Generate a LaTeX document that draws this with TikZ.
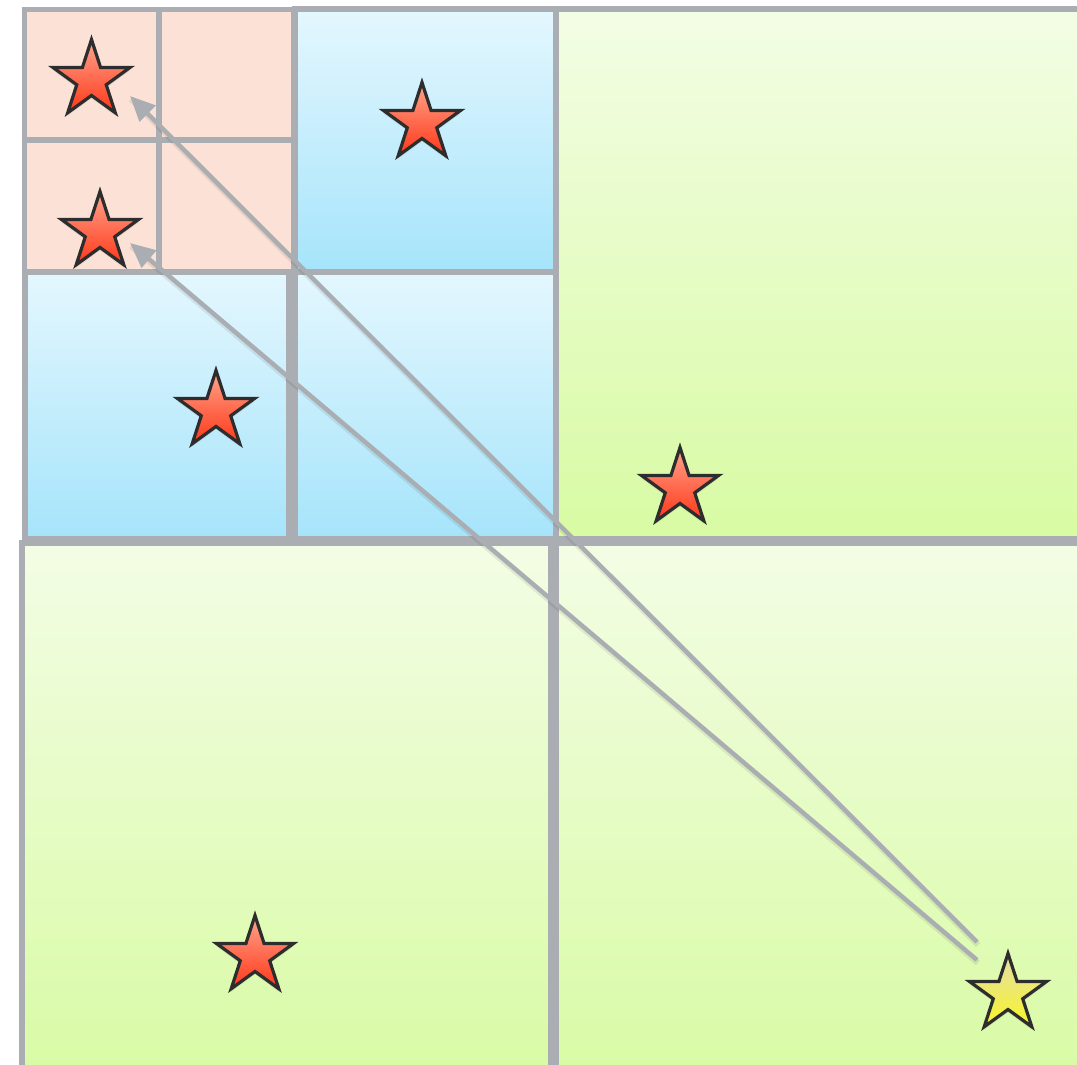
\documentclass[tikz,border=0pt]{standalone}
\usetikzlibrary{shapes.geometric,arrows.meta,shadows}
\definecolor{grid}{RGB}{170,174,178}
\definecolor{pinkfill}{RGB}{252,226,214}
\definecolor{bluetop}{RGB}{228,247,254}
\definecolor{bluebot}{RGB}{166,228,251}
\definecolor{greentop}{RGB}{243,253,229}
\definecolor{greenbot}{RGB}{216,251,163}
\definecolor{redtop}{RGB}{255,165,140}
\definecolor{redbot}{RGB}{255,55,25}
\definecolor{yeltop}{RGB}{228,222,170}
\definecolor{yelbot}{RGB}{248,245,40}
\definecolor{stardraw}{RGB}{45,45,45}
\tikzset{
  cell/.style={draw=grid, line width=6pt},
  pinkcell/.style={cell, fill=pinkfill, line width=5.5pt},
  bluecell/.style={cell, top color=bluetop, bottom color=bluebot},
  greencell/.style={cell, top color=greentop, bottom color=greenbot},
  starbase/.style={star, star points=5, star point ratio=2.618, minimum size=81pt,
    inner sep=0pt, draw=stardraw, line width=3.2pt, line join=miter,
    drop shadow={opacity=0.18, shadow xshift=0pt, shadow yshift=-3pt}},
  redstar/.style={starbase, top color=redtop, bottom color=redbot},
  yellowstar/.style={starbase, top color=yeltop, bottom color=yelbot},
  link/.style={draw=grid, line width=4.5pt, -{Triangle[length=25pt,width=22pt]},
    preaction={draw=black, opacity=0.08, line width=6pt, -, transform canvas={shift={(1pt,-3pt)}}}},
}
\begin{document}
\begin{tikzpicture}[x=1pt,y=-1pt]
\clip (0,0) rectangle (1077,1065);
\fill[white] (0,0) rectangle (1077,1065);
% cells
\path[pinkcell] (24.5,9.5) rectangle (159,140);
\path[pinkcell] (159,9.5) rectangle (294,140);
\path[pinkcell] (24.5,140) rectangle (159,272);
\path[pinkcell] (159,140) rectangle (294,272);
\path[bluecell] (294.5,9.5) rectangle (555.5,272);
\path[bluecell] (24.5,272) rectangle (289,538.5);
\path[bluecell] (294.5,272) rectangle (555.5,538.5);
\path[greencell] (555.5,9.5) rectangle (1090,539);
\path[greencell] (21.5,542.5) rectangle (550.5,1090);
\path[greencell] (555.5,542.5) rectangle (1090,1090);
% stars
\node[redstar] (s1) at (91.5,80) {};
\node[redstar] (s2) at (100,232) {};
\node[redstar] (s3) at (422,123) {};
\node[redstar] (s4) at (216,411) {};
\node[redstar] (s5) at (680,488) {};
\node[redstar] (s6) at (255,956) {};
\node[yellowstar] (y) at (1008,994) {};
% arrows
\coordinate (a1) at (977,942);
\coordinate (a2) at (977,960);
\coordinate (h1) at (130,96);
\coordinate (h2) at (130,243);
\draw[link] (a1) -- (h1);
\draw[link] (a2) -- (h2);
\end{tikzpicture}
\end{document}
